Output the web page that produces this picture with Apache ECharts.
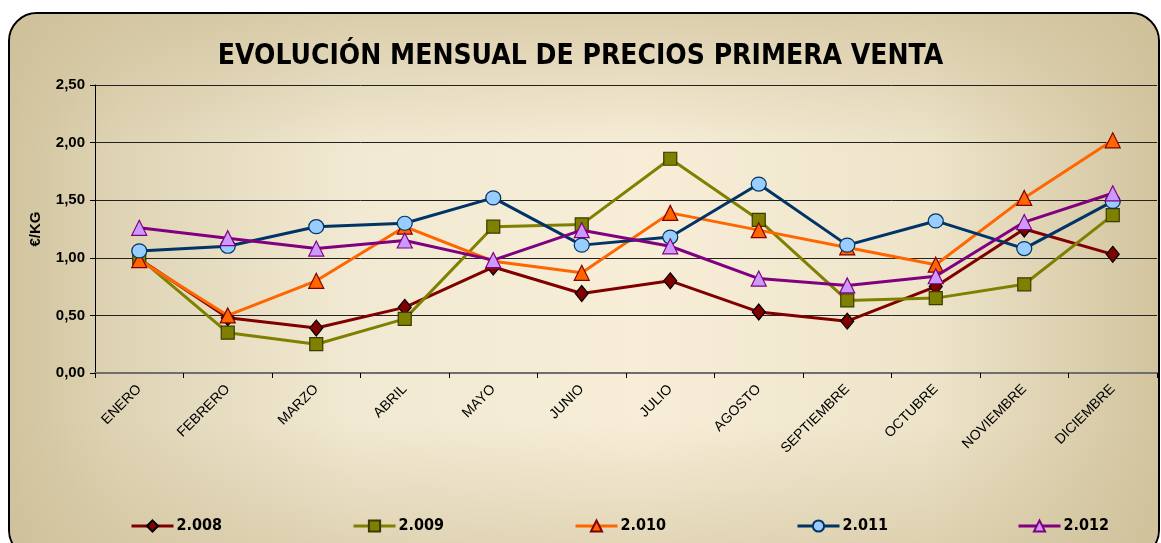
<!DOCTYPE html>
<html>
<head>
<meta charset="utf-8">
<script src="https://cdn.jsdelivr.net/npm/echarts@6/dist/echarts.min.js"></script>
<style>
html,body{margin:0;padding:0;background:#fff;}
#c{width:1161px;height:543px;}
</style>
</head>
<body>
<div id="c"></div>
<script>
const months = ['ENERO','FEBRERO','MARZO','ABRIL','MAYO','JUNIO','JULIO','AGOSTO','SEPTIEMBRE','OCTUBRE','NOVIEMBRE','DICIEMBRE'];
const y2008 = [0.99,0.48,0.39,0.57,0.92,0.69,0.80,0.53,0.45,0.75,1.25,1.03];
const y2009 = [1.00,0.35,0.25,0.47,1.27,1.29,1.86,1.33,0.63,0.65,0.77,1.37];
const y2010 = [0.98,0.50,0.80,1.27,0.97,0.87,1.39,1.24,1.09,0.94,1.52,2.02];
const y2011 = [1.06,1.10,1.27,1.30,1.52,1.11,1.18,1.64,1.11,1.32,1.08,1.49];
const y2012 = [1.26,1.17,1.08,1.15,0.98,1.24,1.10,0.82,0.76,0.84,1.31,1.56];
const seriesNames = ['2.008','2.009','2.010','2.011','2.012'];
const yTicks = ['0,00','0,50','1,00','1,50','2,00','2,50'];

const styles = [
  {line:'#800000', fill:'#800000', border:'#000000', symbol:'diamond', size:[13,16]},
  {line:'#808000', fill:'#808000', border:'#3a3a00', symbol:'rect', size:[13,13]},
  {line:'#FF6600', fill:'#FF6600', border:'#800000', symbol:'triangle', size:[15,15]},
  {line:'#003366', fill:'#99CCFF', border:'#003366', symbol:'circle', size:[15,14]},
  {line:'#800080', fill:'#CC99FF', border:'#800080', symbol:'triangle', size:[15,15]}
];
const dataSets = [y2008,y2009,y2010,y2011,y2012];
const legendLefts = [130, 352, 574, 796, 1017];

const chart = echarts.init(document.getElementById('c'), null, {renderer:'canvas'});
const series = dataSets.map((d,i)=>({
  name: seriesNames[i],
  type:'line',
  data:d,
  symbol: styles[i].symbol,
  symbolSize: styles[i].size,
  lineStyle:{color:styles[i].line, width:3},
  itemStyle:{color:styles[i].fill, borderColor:styles[i].border, borderWidth:1.2},
  z: 2+i,
  animation:false
}));
const legends = seriesNames.map((n,i)=>({
  data:[n],
  left: legendLefts[i],
  top: 518,
  padding: 0,
  itemWidth: 42,
  itemHeight: 14,
  itemGap: 3,
  lineStyle:{width:3},
  textStyle:{fontFamily:'DejaVu Sans Condensed', fontWeight:'bold', fontSize:16, color:'#000', padding:[0,0,0,-2]}
}));

chart.setOption({
  animation:false,
  graphic:[{
    type:'rect', z:-10, silent:true,
    shape:{x:9, y:13, width:1150, height:545, r:28},
    style:{
      fill:{type:'linear', x:0, y:0, x2:1, y2:0, colorStops:[
        {offset:0, color:'#d1c49e'},
        {offset:0.1, color:'#dfd4b5'},
        {offset:0.3, color:'#f1e9d2'},
        {offset:0.55, color:'#f8eed8'},
        {offset:0.8, color:'#ede4ca'},
        {offset:0.92, color:'#ddd1b0'},
        {offset:1, color:'#d2c49e'}
      ]},
      stroke:'#000', lineWidth:2
    }
  },{
    type:'rect', z:-9, silent:true,
    shape:{x:10, y:14, width:1148, height:543, r:27},
    style:{
      fill:{type:'linear', x:0, y:0, x2:0, y2:1, colorStops:[
        {offset:0, color:'rgba(205,190,150,0.65)'},
        {offset:0.25, color:'rgba(205,190,150,0.0)'},
        {offset:0.75, color:'rgba(205,190,150,0.0)'},
        {offset:1, color:'rgba(205,190,150,0.55)'}
      ]}
    }
  }],
  title:{
    text:'EVOLUCIÓN MENSUAL DE PRECIOS PRIMERA VENTA',
    left:'center', top:38,
    textStyle:{fontFamily:'DejaVu Sans Condensed', fontWeight:'bold', fontSize:28, color:'#000'}
  },
  legend: legends,
  grid:{left:95, top:85, width:1062, height:288},
  xAxis:{
    type:'category', data:months, boundaryGap:true,
    axisLine:{lineStyle:{color:'#6e6e6e', width:2}},
    axisTick:{show:true, length:5, lineStyle:{color:'#000'}},
    axisLabel:{rotate:45, fontFamily:'Liberation Sans', fontSize:14, color:'#000', margin:14}
  },
  yAxis:{
    type:'value', min:0, max:2.5, interval:0.5,
    name:'€/KG', nameLocation:'middle', nameGap:52, nameRotate:90,
    nameTextStyle:{fontFamily:'Liberation Sans', fontWeight:'bold', fontSize:15, color:'#000'},
    axisLine:{show:true, lineStyle:{color:'#000', width:1}},
    axisTick:{show:true, length:5, inside:false, lineStyle:{color:'#000'}},
    axisLabel:{fontFamily:'Liberation Sans', fontWeight:'bold', fontSize:15, color:'#000', margin:10,
      formatter:(v)=>yTicks[Math.round(v/0.5)]},
    splitLine:{show:true, lineStyle:{color:'#222', width:1}}
  },
  series: series
});
</script>
</body>
</html>
